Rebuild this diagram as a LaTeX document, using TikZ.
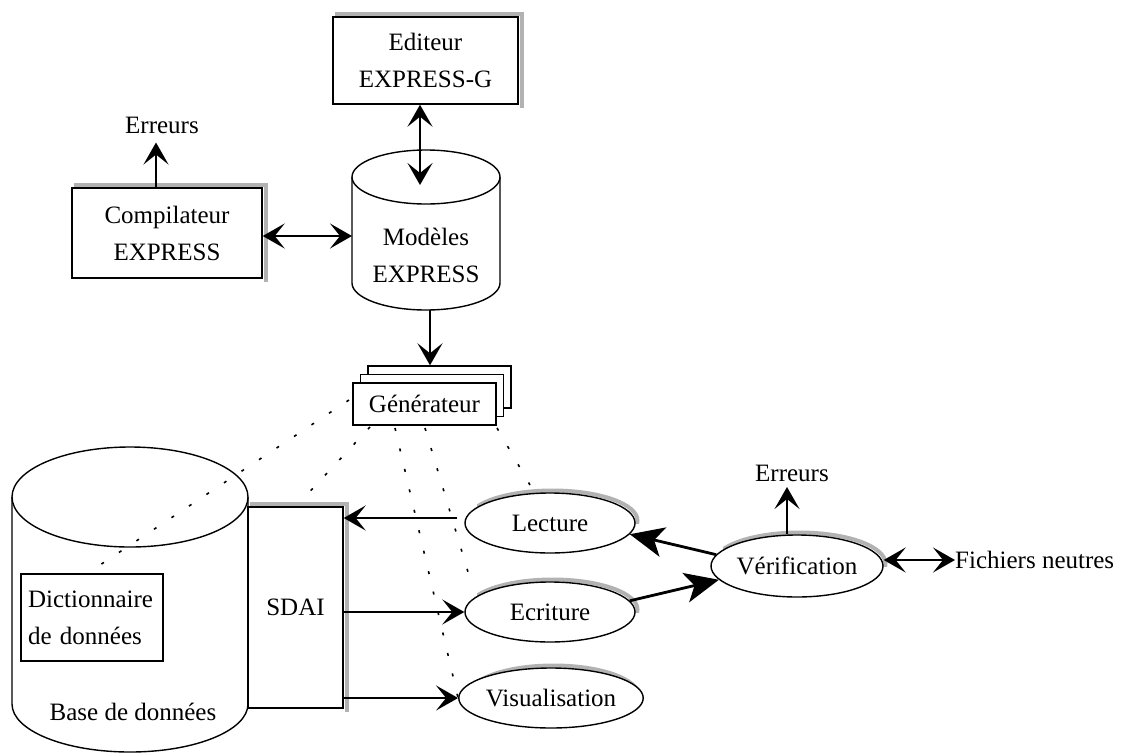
\documentclass[tikz,border=0pt]{standalone}
\usepackage{fontspec}
\setmainfont{Liberation Serif}
\usetikzlibrary{arrows.meta,shapes.geometric,calc}
\newcommand{\myovalshadow}[4]{%
  \begin{scope}
    \clip (#1-#3+12,#2-#4-12) rectangle (#1+#3+12,#2);
    \draw[shad] (#1+2.5,#2-2.5) ellipse (#3 and #4);
  \end{scope}}
\newcommand{\myrectshadow}[1]{%
  \draw[shad] ([shift={(3pt,2.8pt)}]#1.north west) -- ([shift={(2.8pt,2.8pt)}]#1.north east) -- ([shift={(2.8pt,-3pt)}]#1.south east);}
\begin{document}
\begin{tikzpicture}[x=1pt,y=-1pt,
  every node/.style={font=\fontsize{25}{37}\selectfont, inner sep=0pt, align=center},
  box/.style={draw, line width=1.4pt, fill=white},
  oval/.style={ellipse, draw, line width=1.4pt, fill=white, minimum width=170pt, minimum height=60pt},
  shad/.style={draw=gray!60, line width=4pt},
  conn/.style={line width=2.2pt},
  sa/.style={-{Stealth[length=22pt,width=25pt,inset=10pt]}},
  da/.style={{Stealth[length=22pt,width=25pt,inset=10pt]}-{Stealth[length=22pt,width=25pt,inset=10pt]}},
  big/.style={line width=2.8pt, -{Stealth[length=34pt,width=30pt,inset=9pt]}},
  dots/.style={line width=1.6pt, dash pattern=on 3pt off 18pt},
]
\useasboundingbox (0,0) rectangle (1129,753);

% Editeur
\node[box, minimum width=185pt, minimum height=87pt] (E) at (425.5,60.5) {Editeur\\EXPRESS-G};
\myrectshadow{E}

% Compilateur
\node[box, minimum width=190pt, minimum height=90pt] (C) at (167,233) {Compilateur\\EXPRESS};
\myrectshadow{C}
\node (Er1) at (162,125) {Erreurs};

% Modeles cylinder
\draw[box] (352,177) -- (352,283) .. controls (352,297.9) and (385.1,310) .. (426,310)
  .. controls (466.9,310) and (500,297.9) .. (500,283) -- (500,177);
\draw[line width=1.4pt, fill=white] (426,177) ellipse (74 and 27);
\node (M) at (426,255) {Modèles\\EXPRESS};
\coordinate (Mtop) at (420,185);
\coordinate (Mleft) at (352,236);
\coordinate (Mbot) at (430,310);

% Generateur
\node[box, minimum width=143pt, minimum height=42pt] (G3) at (439.5,387) {};
\node[box, minimum width=143pt, minimum height=42pt] (G2) at (432,395.5) {};
\node[box, minimum width=143pt, minimum height=42pt] (G) at (424.5,404) {Générateur};

% Base de donnees cylinder
\draw[box] (12,497) -- (12,704) .. controls (12,730.5) and (64.8,752) .. (130,752)
  .. controls (195.2,752) and (248,730.5) .. (248,704) -- (248,497);
\draw[line width=1.4pt, fill=white] (130,497) ellipse (118 and 50);
\node (B) at (133,712) {Base de données};
\node[draw, line width=1.4pt, minimum height=87pt, text width=128pt, inner xsep=7pt, align=left] (D) at (92,617.5) {Dictionnaire\\de données};

% SDAI
\node[box, minimum width=95pt, minimum height=201pt] (S) at (295.5,607.5) {SDAI};
\myrectshadow{S}

% ellipses
\myovalshadow{550}{523}{85}{30}
\node[oval] (L) at (550,523) {Lecture};
\myovalshadow{550}{612}{85}{30}
\node[oval] (Ec) at (550,612) {Ecriture};
\myovalshadow{551}{698}{85}{30}
\node[oval] (V) at (551,698) {Visualisation};
\myovalshadow{797}{566}{86}{31}
\node[oval, minimum width=172pt, minimum height=62pt] (Ve) at (797,566) {Vérification};

\node (Er2) at (792,473) {Erreurs};
\node[anchor=west] (F) at (955,560) {Fichiers neutres};

% connectors top
\draw[conn,da] (E.south -| Mtop) -- (Mtop);
\draw[conn,da] (C.east |- Mleft) -- (Mleft);
\draw[conn,sa] ([xshift=-11pt]C.north) -- ([xshift=-11pt, yshift=-9pt]C.north |- Er1.south);
\draw[conn,sa] (Mbot) -- (Mbot |- G3.north);

% dotted lines from Generateur
\coordinate (g1) at (349,400);
\coordinate (g2) at (370,427);
\coordinate (g3) at (395,428);
\coordinate (g4) at (425,428);
\coordinate (g5) at (497,428);
\coordinate (d1) at (97,567);
\coordinate (d2) at (302,500);
\coordinate (d4) at (468,572);
\coordinate (d5) at (530,485);
\draw[dots] (g1) -- (d1);
\draw[dots] (g2) -- (d2);
\draw[dots] (g3) -- (V.west);
\draw[dots] (g4) -- (d4);
\draw[dots] (g5) -- (d5);

% SDAI arrows
\draw[conn,sa] ([shift={(-7pt,5pt)}]L.west) -- ([yshift=5pt]L.west -| S.east);
\draw[conn,sa] (S.east |- Ec.west) -- (Ec.west);
\draw[conn,sa] (S.east |- V.west) -- (V.west);

% verification arrows
\draw[big] (Ve.172) -- (L.-8);
\draw[big] (Ec.8) -- (Ve.190);
\coordinate (e2) at (787,487);
\draw[conn,sa] ([xshift=-10pt]Ve.north) -- (e2);
\draw[conn,da] (Ve.east |- F.west) -- (F.west);
\end{tikzpicture}
\end{document}
